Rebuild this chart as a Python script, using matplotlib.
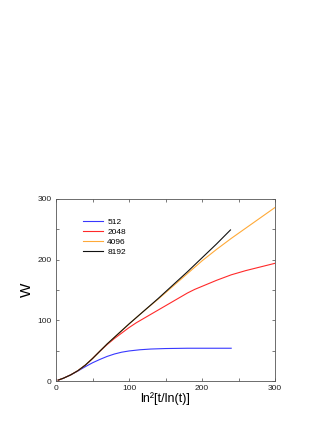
import matplotlib
matplotlib.use("Agg")
import matplotlib.pyplot as plt
from matplotlib.ticker import MultipleLocator

plt.rcParams['font.family'] = ['Liberation Sans', 'DejaVu Sans']

labels = ["512", "2048", "4096", "8192"]
colors = ["#3838ff", "#ff2a2a", "#ffaa38", "#111111"]

x512 = [3, 10, 20, 30, 40, 50, 60, 70, 80, 90, 100, 115, 130, 150, 180, 210, 240]
y512 = [1.5, 4.5, 10, 16.5, 23.5, 30, 35.5, 40.5, 44.5, 47.5, 49.5, 51.5, 52.7, 53.5, 54, 54, 54]

x2048 = [3, 10, 20, 30, 40, 50, 60, 70, 80, 90, 100, 110, 120, 130, 140, 150, 160, 170,
         180, 190, 200, 210, 220, 240, 260, 280, 300]
y2048 = [1.5, 4.5, 10, 17, 26, 37, 49, 60, 70, 79, 88, 96, 103, 110, 117, 124, 131, 138,
         145, 151, 156, 161, 166, 175, 182, 188, 194]

x4096 = [3, 10, 20, 30, 40, 50, 60, 70, 80, 90, 100, 120, 140, 160, 180, 200, 220, 240,
         260, 280, 300]
y4096 = [1.5, 4.5, 10, 17, 26, 37, 49, 61, 72, 83, 94, 115, 135, 156, 177, 198, 217, 235,
         252, 269, 286]

x8192 = [3, 10, 20, 30, 40, 50, 60, 70, 80, 90, 100, 120, 140, 160, 180, 200, 220, 239]
y8192 = [1.5, 4.5, 10, 17, 26, 37, 49, 61, 72, 83, 94, 115, 136, 158, 180, 203, 226, 249]

fig = plt.figure(figsize=(3.32, 4.30), dpi=100)
ax = fig.add_axes([56/332, 1-381/430, 219/332, 182/430])

series = [(x512, y512), (x2048, y2048), (x4096, y4096), (x8192, y8192)]
for (xs, ys), lab, c in zip(series, labels, colors):
    ax.plot(xs, ys, color=c, lw=0.8, label=lab)

ax.set_xlim(0, 300)
ax.set_ylim(0, 300)
ax.xaxis.set_major_locator(MultipleLocator(100))
ax.xaxis.set_minor_locator(MultipleLocator(50))
ax.yaxis.set_major_locator(MultipleLocator(100))
ax.yaxis.set_minor_locator(MultipleLocator(50))
ax.tick_params(which='both', direction='in', top=True, right=True,
               length=2, width=0.5, colors='#444444', labelsize=6, pad=3,
               labelcolor='#222222')
for s in ax.spines.values():
    s.set_linewidth(0.6)
    s.set_color('#555555')

ax.set_xlabel("ln²[t/ln(t)]", fontsize=9, labelpad=0)
ax.set_ylabel("W", fontsize=11, labelpad=2.5)

ax.legend(loc='upper left', bbox_to_anchor=(83/332, 1-218/430),
          bbox_transform=fig.transFigure, frameon=False, fontsize=6,
          handlelength=2.4, handletextpad=0.5, labelspacing=0.28,
          borderpad=0, borderaxespad=0)

fig.savefig("out.png", dpi=100)
